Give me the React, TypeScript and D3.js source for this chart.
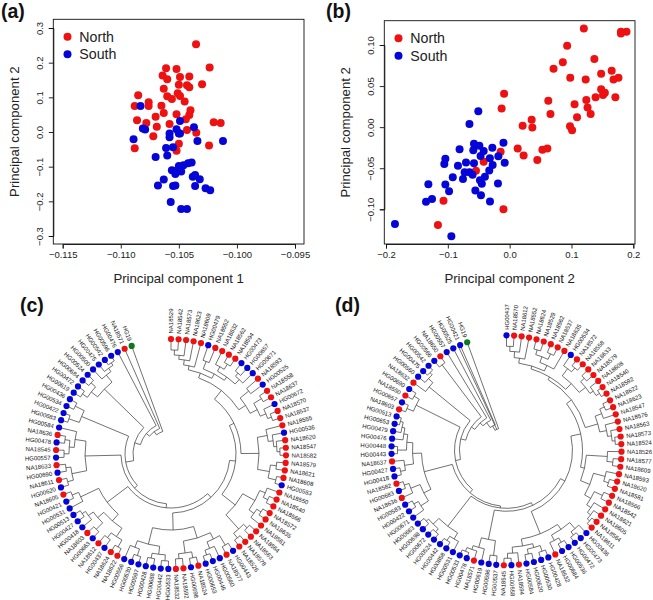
import React, { useRef, useEffect } from "react";
import * as d3 from "d3";

const FONT = "'Liberation Sans', Arial, sans-serif";
const RED = "#ee1111";
const BLUE = "#0505d8";
const GREEN = "#0a7a1e";
const INK = "#222";

// panel (a) values: [PC1, PC2]
const northA = [
  [-0.10352, 0.253], [-0.10235, 0.186], [-0.1061, 0.184], [-0.1052, 0.182], [-0.1064, 0.163],
  [-0.106, 0.152], [-0.1049, 0.159], [-0.1041, 0.16], [-0.103, 0.138], [-0.105, 0.136],
  [-0.1043, 0.135], [-0.1041, 0.129], [-0.1063, 0.125], [-0.1051, 0.112], [-0.1049, 0.104],
  [-0.106, 0.103], [-0.1056, 0.095], [-0.1045, 0.088], [-0.1085, 0.106], [-0.1076, 0.086],
  [-0.1076, 0.075], [-0.1088, 0.075], [-0.1065, 0.076], [-0.1063, 0.055], [-0.1052, 0.051],
  [-0.104, 0.0625], [-0.1041, 0.049], [-0.1044, 0.037], [-0.107, 0.044], [-0.1086, 0.034],
  [-0.1078, 0.026], [-0.1058, 0.023], [-0.1069, 0.015], [-0.102, 0.028], [-0.1014, 0.026],
  [-0.1043, 0.006], [-0.1035, -0.002], [-0.1072, -0.012], [-0.1024, -0.039], [-0.1088, -0.047],
  [-0.105, -0.034], [-0.1052, -0.054],
];
const southA = [
  [-0.1083, 0.075], [-0.1037, 0.014], [-0.1049, 0.032], [-0.1081, 0.01], [-0.1079, 0.007],
  [-0.1089, -0.021], [-0.1052, 0.008], [-0.1058, -0.004], [-0.1058, -0.015], [-0.105, -0.004],
  [-0.1049, -0.004], [-0.1034, -0.026], [-0.1012, -0.026], [-0.1061, -0.046], [-0.1055, -0.044],
  [-0.107, -0.072], [-0.106, -0.068], [-0.1039, -0.088], [-0.1042, -0.09], [-0.1046, -0.096],
  [-0.105, -0.098], [-0.1056, -0.11], [-0.1052, -0.112], [-0.1048, -0.114], [-0.1053, -0.121],
  [-0.1038, -0.129], [-0.1036, -0.124], [-0.1032, -0.136], [-0.1063, -0.137], [-0.1068, -0.154],
  [-0.1055, -0.156], [-0.1053, -0.154], [-0.1036, -0.156], [-0.1027, -0.162], [-0.1023, -0.168],
  [-0.1057, -0.202], [-0.1048, -0.222], [-0.1043, -0.222],
];

// panel (b) values
const northB = [
  [0.12, 0.12], [0.18, 0.116], [0.189, 0.116], [0.18, 0.114], [0.093, 0.099], [0.137, 0.083],
  [0.086, 0.079], [0.071, 0.071], [0.148, 0.065], [0.165, 0.0686], [0.098, 0.06], [0.123, 0.058],
  [0.168, 0.058], [0.176, 0.06], [0.148, 0.046], [0.154, 0.042], [0.151, 0.039], [0.139, 0.0365],
  [0.171, 0.0365], [0.124, 0.033], [0.0625, 0.032], [0.105, 0.028], [0.126, 0.024], [0.131, 0.016],
  [0.066, 0.016], [0.109, 0.012], [-0.009, 0.0406], [-0.013, 0.0227], [0.0356, 0.009], [0.021, 0.0016],
  [0.0367, -0.0004], [0.0976, 0.0012], [0.101, -0.0037], [0.013, -0.026], [0.0226, -0.0345],
  [0.0447, -0.04], [0.053, -0.0276], [0.061, -0.026], [-0.0146, -0.03], [-0.042, -0.042],
  [-0.0545, -0.053], [-0.107, -0.0897], [-0.01, -0.0998], [-0.116, -0.119],
];
const southB = [
  [-0.0507, 0.0195], [-0.065, 0.0037], [-0.01, -0.019], [-0.0577, -0.0203], [-0.049, -0.0227],
  [-0.081, -0.0268], [-0.028, -0.025], [-0.0588, -0.028], [-0.042, -0.029], [-0.047, -0.035],
  [-0.104, -0.0385], [-0.1057, -0.045], [-0.0836, -0.047], [-0.0706, -0.043], [-0.0577, -0.0438],
  [-0.032, -0.038], [-0.0183, -0.0353], [-0.008, -0.0434], [-0.0275, -0.046], [-0.033, -0.0527],
  [-0.0728, -0.0548], [-0.065, -0.0548], [-0.06, -0.058], [-0.092, -0.061], [-0.0755, -0.063],
  [-0.04, -0.0604], [-0.048, -0.0645], [-0.045, -0.069], [-0.1315, -0.0694], [-0.104, -0.0698],
  [-0.0189, -0.0686], [-0.098, -0.078], [-0.0555, -0.077], [-0.0464, -0.0828], [-0.1256, -0.0876],
  [-0.1353, -0.0909], [-0.0318, -0.0905], [-0.1855, -0.118], [-0.0943, -0.1327],
];

const ticksAx = [-0.115, -0.11, -0.105, -0.1, -0.095];
const ticksAy = [-0.3, -0.2, -0.1, 0, 0.1, 0.2, 0.3];
const ticksBx = [-0.2, -0.1, 0, 0.1, 0.2];
const ticksBy = [-0.1, -0.05, 0, 0.05, 0.1];

// dendrogram clades, clockwise from the top: (child,child)distance
const cTop =
  "((((((NA18529,NA18542)11,NA18573)16,NA18623)20,NA18609)25,((HG00479,NA18552)16,((NA18632,(NA18562,NA18594)9)15,((HG00473,HG00657)10,HG00671)14)20)24)29," +
  "((NA18593,HG00525)15,((NA18558,NA18637)9,(HG00672,(NA18570,NA18537)8)12)18)26)34";
const cRight =
  "((NA18555,(HG00536,(NA18620,(NA18547,NA18582)6)9)12)17,((NA18579,NA18621)9,(NA18608,HG00583)7)15)27";
const cLowerRight =
  "(((NA18550,(NA18540,NA18566)8)13,((NA18572,NA18635)8,NA18561)13)19,((NA18564,NA18563)9,(NA18578,NA18526)8)14)33";
const cBottom =
  "((((HG00443,NA18577)9,(HG00560,(HG00446,HG00653)8)13)20,((NA18524,HG00698)9,(NA18592,NA18532)10)15)27," +
  "(((HG00533,HG00442)8,(HG00688,HG00428)9)14,((HG00597,HG00530)8,HG00556)15)22)39";
const cLowerLeft =
  "((((NA18622,NA18624)8,(HG00437,NA18612)10)16,((HG00663,NA18603)9,(HG00418,(HG00427,HG00513)8)12)18)26,(HG00531,(HG00421,NA18605)8)15)35";
const cLeft =
  "(((HG00620,NA18611)8,(HG00690,NA18633)9)14,(((HG00557,NA18545)8,(HG00478,NA18636)8)13,HG00584)18)29";
const cUpperLeft = "((HG00683,HG00422)7,(HG00534,HG00436)8)18";
const cUpper =
  "(((HG00619,HG00472)8,(HG00684,HG00524)8)14,(HG00500,(HG00475,(HG00542,HG00596)6)9)13)22";
const treeC =
  `((((((((((${cTop},${cRight})45,${cLowerRight})50,${cBottom})56,${cLowerLeft})61,${cLeft})65,${cUpperLeft})69,${cUpper})77,HG00476)83,NA18571)87,HG19)91`;

const dTop =
  "((((((HG00437,NA18570)11,NA18612)16,NA18552)22,(((NA18624,NA18529)10,(NA18562,NA18537)9)15,NA18635)21)27," +
  "((HG00534,(NA18572,NA18558)8)13,((NA18633,NA18579)9,(NA18608,(NA18540,NA18592)6)10)14)22)30";
const dRight = "(((NA18622,NA18623)8,NA18547)13,(NA18576,(NA18563,(NA18573,NA18524)6)9)13)20";
const dLowerRight =
  "((NA18526,(NA18577,NA18609)8)14,((NA18593,(NA18620,NA18581)8)13,((NA18566,NA18542)9,(NA18621,(NA18605,(NA18564,NA18611)6)9)13)18)25)35";
const dBottomRight =
  "(((HG00436,(HG00473,HG00472)7)11,((HG00536,HG00684)8,NA18532)13)19,(((HG00428,HG00530)8,(HG00620,HG00584)9)14,(NA18594,(HG00658,NA18545)7)12)18)25";
const dBottom = "((HG00537,HG00596)9,(HG00619,(NA18571,(HG00478,HG00533)6)10)14)24";
const dLowerLeft = "((HG00531,(HG00858,HG00442)7)12,((HG00524,HG00672)7,(HG00698,HG00663)8)11)19";
const dLeft =
  "(((HG00671,(HG00422,HG00583)8)13,(NA18636,(HG00683,NA18582)7)12)22,(((HG00418,HG00427)7,NA18637)12,((HG00443,HG00448)6,(HG00476,(HG00479,(HG00653,HG00513)5)8)11)15)21)30";
const dUpperLeft = "((NA18603,HG00657)7,(NA18550,HG00690)8)14";
const dUpper = "(NA18632,(HG00560,(HG00475,HG00542)6)9)15";
const dTip = "(HG00566,NA18650)8";
const treeD =
  `(((((((((((((${dTop},${dRight})33,${dLowerRight})39,${dBottomRight})49,${dBottom})54,${dLowerLeft})57,${dLeft})59,${dUpperLeft})63,${dUpper})68,${dTip})73,HG00557)77,HG00525)81,HG00421)87,HG19)92`;

// small newick style reader for the strings above
function parseTree(src) {
  let i = 0;
  const readToken = () => {
    const start = i;
    while (i < src.length && !",()".includes(src[i])) i++;
    return src.slice(start, i);
  };
  const readNode = () => {
    if (src[i] === "(") {
      i++;
      const children = [readNode()];
      while (src[i] === ",") {
        i++;
        children.push(readNode());
      }
      i++;
      return { dist: +readToken(), children };
    }
    return { name: readToken(), dist: 0 };
  };
  return readNode();
}

function drawScatter(svg, o) {
  const g = svg.append("g").attr("font-family", FONT);
  const x = d3.scaleLinear().domain(o.xDomain).range(o.xRange);
  const y = d3.scaleLinear().domain(o.yDomain).range(o.yRange);

  g.append("rect")
    .attr("x", o.box[0])
    .attr("y", o.box[1])
    .attr("width", o.box[2] - o.box[0])
    .attr("height", o.box[3] - o.box[1])
    .attr("fill", "#fff")
    .attr("stroke", "#111")
    .attr("stroke-width", 0.9);

  const xAxis = g
    .append("g")
    .attr("transform", `translate(0,${o.box[3]})`)
    .call(d3.axisBottom(x).tickValues(o.xTicks).tickFormat(d3.format(o.xFormat)).tickSize(4.5).tickPadding(3));
  const yAxis = g
    .append("g")
    .attr("transform", `translate(${o.box[0]},0)`)
    .call(d3.axisLeft(y).tickValues(o.yTicks).tickFormat(d3.format(o.yFormat)).tickSize(4.5));

  g.selectAll(".domain").attr("stroke", "#111").attr("stroke-width", 0.9);
  g.selectAll(".tick line").attr("stroke", "#111").attr("stroke-width", 0.9);
  xAxis.selectAll("text").attr("font-size", 9.5).attr("fill", INK).attr("font-family", FONT);
  yAxis
    .selectAll("text")
    .attr("font-size", 9.5)
    .attr("fill", INK)
    .attr("font-family", FONT)
    .attr("transform", "rotate(-90)")
    .attr("x", 0)
    .attr("y", -10)
    .attr("dy", 0)
    .attr("text-anchor", "middle");

  g.selectAll(".north")
    .data(o.north)
    .enter()
    .append("circle")
    .attr("cx", (d) => x(d[0]))
    .attr("cy", (d) => y(d[1]))
    .attr("r", 4)
    .attr("fill", RED);
  g.selectAll(".south")
    .data(o.south)
    .enter()
    .append("circle")
    .attr("cx", (d) => x(d[0]))
    .attr("cy", (d) => y(d[1]))
    .attr("r", 4)
    .attr("fill", BLUE);

  // legend
  [["North", RED], ["South", BLUE]].forEach(([label, color], i) => {
    const ly = o.box[1] + 17.5 + i * 17.5;
    g.append("circle").attr("cx", o.box[0] + 14.2).attr("cy", ly).attr("r", 4).attr("fill", color);
    g.append("text")
      .attr("x", o.box[0] + 26)
      .attr("y", ly + 5)
      .attr("font-size", 14.2)
      .attr("fill", INK)
      .text(label);
  });

  g.append("text")
    .attr("x", (o.box[0] + o.box[2]) / 2)
    .attr("y", 282.5)
    .attr("text-anchor", "middle")
    .attr("font-size", 13.2)
    .attr("fill", INK)
    .text(o.xTitle);
  g.append("text")
    .attr("transform", `translate(${o.box[0] - 34.5},${(o.box[1] + o.box[3]) / 2}) rotate(-90)`)
    .attr("text-anchor", "middle")
    .attr("font-size", 13.2)
    .attr("fill", INK)
    .text(o.yTitle);
}

function drawTree(svg, src, cx, cy) {
  const g = svg.append("g").attr("transform", `translate(${cx},${cy})`).attr("font-family", FONT);
  const root = d3.hierarchy(parseTree(src));
  const leaves = root.leaves();
  const angle = d3.scaleLinear().domain([0, leaves.length - 1]).range([0, 340]);
  const radius = d3.scaleLinear().domain([0, 115]).range([115, 0]);

  leaves.forEach((d, i) => {
    d.a = angle(i);
  });
  root.eachAfter((d) => {
    if (d.children) d.a = (d.children[0].a + d.children[d.children.length - 1].a) / 2;
  });

  const rad = (a) => ((a - 90) * Math.PI) / 180;
  const pt = (a, r) => [r * Math.cos(rad(a)), r * Math.sin(rad(a))];

  const p = d3.path();
  root.descendants().forEach((d) => {
    const r = radius(d.data.dist);
    if (d.parent) {
      p.moveTo(...pt(d.a, radius(d.parent.data.dist)));
      p.lineTo(...pt(d.a, r));
    }
    if (d.children) {
      const a0 = d.children[0].a;
      const a1 = d.children[d.children.length - 1].a;
      p.moveTo(...pt(a0, r));
      p.arc(0, 0, r, rad(a0), rad(a1));
    }
  });
  g.append("path").attr("d", p.toString()).attr("fill", "none").attr("stroke", "#333").attr("stroke-width", 0.7);

  const color = (name) => (name === "HG19" ? GREEN : name.startsWith("NA") ? RED : BLUE);

  g.selectAll("circle")
    .data(leaves)
    .enter()
    .append("circle")
    .attr("cx", (d) => pt(d.a, 115)[0])
    .attr("cy", (d) => pt(d.a, 115)[1])
    .attr("r", 3.1)
    .attr("fill", (d) => color(d.data.name));

  g.selectAll("text")
    .data(leaves)
    .enter()
    .append("text")
    .attr("transform", (d) =>
      d.a < 180
        ? `rotate(${d.a - 90}) translate(120.5,0)`
        : `rotate(${d.a - 90}) translate(120.5,0) rotate(180)`,
    )
    .attr("text-anchor", (d) => (d.a < 180 ? "start" : "end"))
    .attr("dy", "0.35em")
    .attr("font-size", 6)
    .attr("fill", "#111")
    .text((d) => d.data.name);
}

const App = () => {
  const svgRef = useRef(null);

  useEffect(() => {
    const svg = d3.select(svgRef.current);
    svg.selectAll("*").remove();

    drawScatter(svg, {
      box: [53.3, 19.3, 304, 244],
      xDomain: [-0.115, -0.095],
      xRange: [62.7, 295],
      yDomain: [-0.3, 0.3],
      yRange: [236, 28],
      xTicks: ticksAx,
      yTicks: ticksAy,
      xFormat: ".3f",
      yFormat: ".1f",
      north: northA,
      south: southA,
      xTitle: "Principal component 1",
      yTitle: "Principal component 2",
    });
    drawScatter(svg, {
      box: [384.3, 20.7, 635, 244],
      xDomain: [-0.2, 0.2],
      xRange: [386, 633.3],
      yDomain: [-0.1, 0.1],
      yRange: [209.3, 45],
      xTicks: ticksBx,
      yTicks: ticksBy,
      xFormat: ".1f",
      yFormat: ".2f",
      north: northB,
      south: southB,
      xTitle: "Principal component 2",
      yTitle: "Principal component 2",
    });

    drawTree(svg, treeC, 171, 454);
    drawTree(svg, treeD, 506.5, 450.3);

    // panel letters
    [["(a)", 1, 18], ["(b)", 326, 18], ["(c)", 20, 312], ["(d)", 335, 312]].forEach(([t, x, y]) => {
      svg
        .append("text")
        .attr("x", x)
        .attr("y", y)
        .attr("font-family", FONT)
        .attr("font-weight", "bold")
        .attr("font-size", 19.5)
        .attr("fill", "#111")
        .text(t);
    });
  }, []);

  return (
    <svg
      ref={svgRef}
      width={653}
      height={600}
      style={{ position: "absolute", left: 0, top: 0, display: "block", background: "#fff" }}
    />
  );
};

export default App;
